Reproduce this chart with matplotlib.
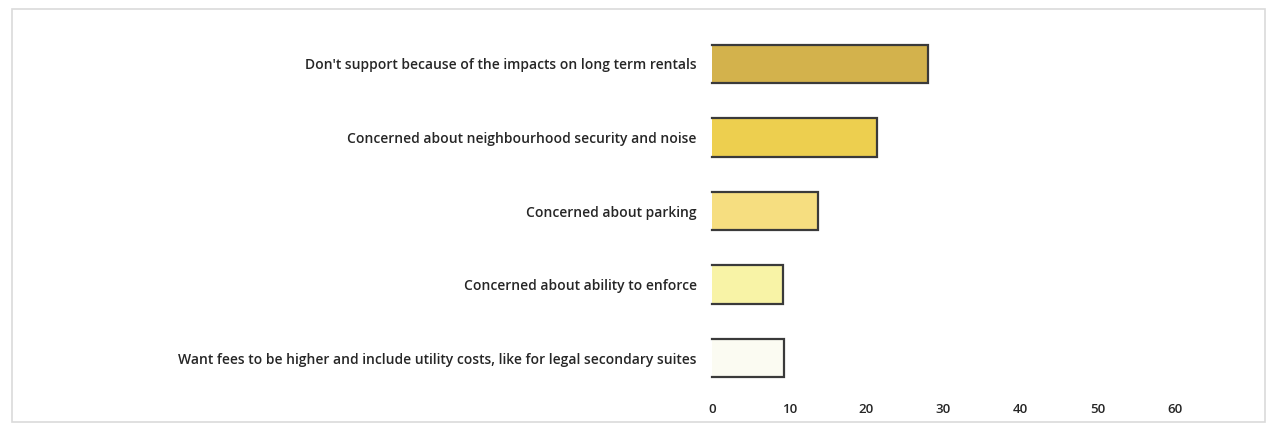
import matplotlib.pyplot as plt
from matplotlib.patches import Rectangle

# survey responses, top to bottom
reasons = [
    "Don't support because of the impacts on long term rentals",
    "Concerned about neighbourhood security and noise",
    "Concerned about parking",
    "Concerned about ability to enforce",
    "Want fees to be higher and include utility costs, like for legal secondary suites",
]
counts = [28, 21.4, 13.7, 9.2, 9.3]
bar_colors = ["#D3B24C", "#EDCF4F", "#F6DE80", "#F8F3A6", "#FBFBF2"]
ticks = [0, 10, 20, 30, 40, 50, 60]

W, H = 1270, 434
fig = plt.figure(figsize=(W / 100, H / 100), dpi=100)
fig.patch.set_facecolor("white")

# light outer chart border
fig.patches.append(Rectangle((12 / W, 12 / H), (1265 - 12) / W, (425 - 12) / H,
                             transform=fig.transFigure, fill=False,
                             edgecolor="#DADADA", linewidth=1.2))

ax = fig.add_axes([712 / W, 1 - 395 / H, (1175 - 712) / W, (395 - 27) / H])

y = list(range(len(reasons)))
h = 0.52
ax.barh(y, counts, height=h, color=bar_colors, linewidth=0)
# outline on top, end and bottom of each bar (no edge at the baseline)
for yi, v in zip(y, counts):
    ax.plot([0, v, v, 0], [yi - h / 2, yi - h / 2, yi + h / 2, yi + h / 2],
            color="#3A3A3A", linewidth=1.6, solid_joinstyle="miter",
            clip_on=False)

ax.set_ylim(len(reasons) - 0.5, -0.5)
ax.set_xlim(0, 60)
ax.set_xticks(ticks)
ax.set_xticklabels([str(t) for t in ticks])
ax.set_yticks(y)
ax.set_yticklabels(reasons)

for s in ax.spines.values():
    s.set_visible(False)
ax.tick_params(axis="both", length=0)
ax.tick_params(axis="y", pad=11)
ax.tick_params(axis="x", pad=6)
for lbl in ax.get_yticklabels():
    lbl.set_fontfamily("Open Sans")
    lbl.set_fontsize(10)
    lbl.set_fontweight("semibold")
    lbl.set_color("#262626")
for lbl in ax.get_xticklabels():
    lbl.set_fontfamily("Open Sans")
    lbl.set_fontsize(9.5)
    lbl.set_fontweight("semibold")
    lbl.set_color("#262626")

fig.savefig("out.png", dpi=100, facecolor="white")
